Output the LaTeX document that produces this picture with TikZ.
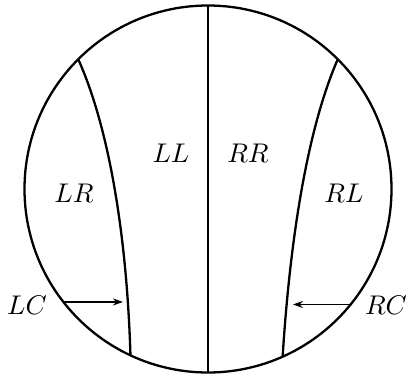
\documentclass[tikz,border=0pt]{standalone}
\usepackage{graphicx}
\usetikzlibrary{arrows.meta}
\newcommand{\biglbl}[1]{\scalebox{2.7}{$#1$}}
\begin{document}
\begin{tikzpicture}[x=1pt,y=-1pt,
  ln/.style={line width=2.3pt},
  lab/.style={inner sep=0pt},
  arr/.style={line width=1.6pt,-{Stealth[length=10pt,width=7pt]}}]
\useasboundingbox (0,0) rectangle (409,377);
\node[circle, draw, ln, minimum size=367pt, inner sep=0pt, outer sep=0pt] (c) at (208,189) {};
\draw[ln] (c.north) -- (c.south);
\draw[ln] (c.135) .. controls (110,130) and (127,240) .. (c.245.7);
\draw[ln] (c.45) .. controls (307,130) and (290,240) .. (c.294.3);
\coordinate (lcend) at (123,304);
\coordinate (rcend) at (293,304);
\draw[arr] (c.218.8) -- (lcend |- c.218.8);
\draw[arr] (c.321.2) -- (rcend |- c.321.2);
\node[lab] (ll) at (171,153) {\biglbl{LL}};
\node[lab] (rr) at (248,153) {\biglbl{RR}};
\node[lab] (lr) at (74,193) {\biglbl{LR}};
\node[lab] (rl) at (344,193) {\biglbl{RL}};
\node[lab] (lc) at (27,305) {\biglbl{LC}};
\node[lab] (rc) at (386,305) {\biglbl{RC}};
\end{tikzpicture}
\end{document}
